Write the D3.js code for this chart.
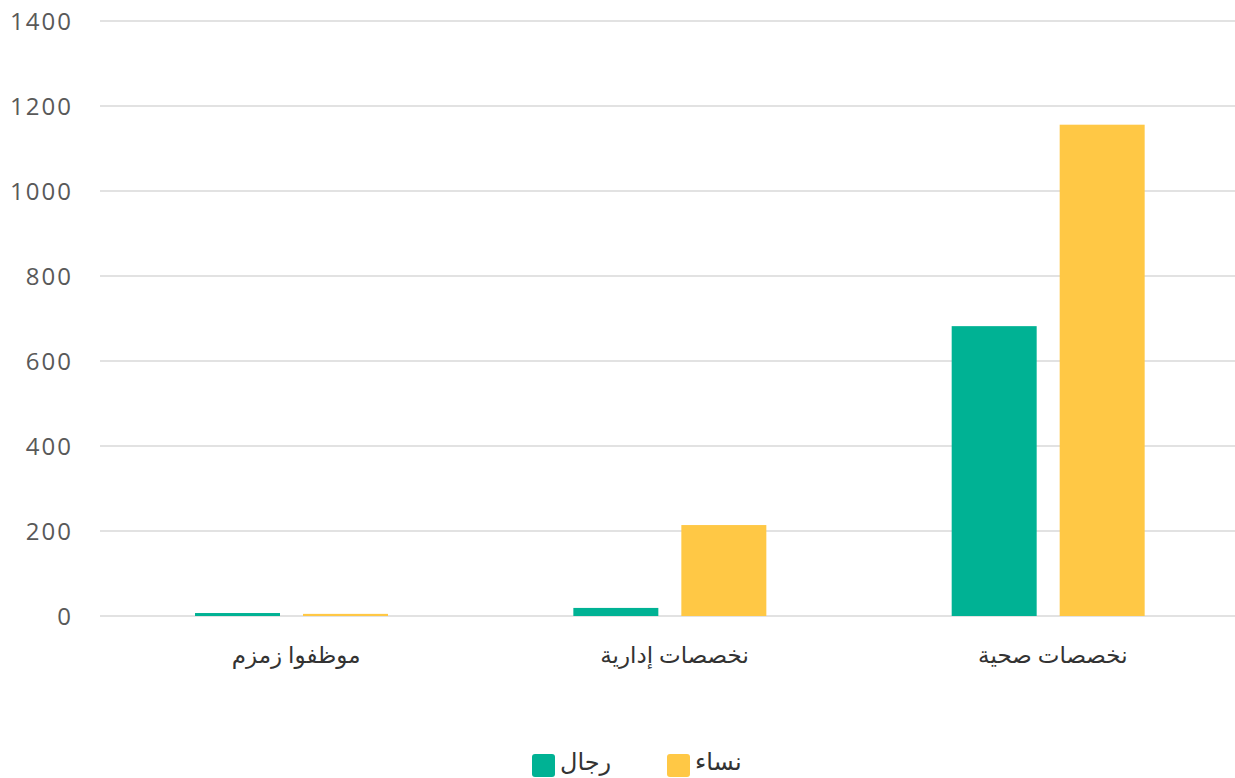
<!DOCTYPE html>
<html><head><meta charset="utf-8">
<script src="https://cdn.jsdelivr.net/npm/d3@7"></script>
<style>body{margin:0;background:#fff}svg{display:block}</style>
</head><body>
<svg id="c" width="1235" height="778"></svg>
<script>
const categories = ["موظفوا زمزم", "نخصصات إدارية", "نخصصات صحية"];
const seriesNames = ["رجال", "نساء"];
const men = [7, 19, 682];
const women = [5, 214, 1156];
const tickValues = [0, 200, 400, 600, 800, 1000, 1200, 1400];
const colors = ["#00b294", "#ffc845"];

(function(){
const svg = d3.select("#c");
const mLeft = 100, mRight = 1235, mTop = 21, mBottom = 616;
const y = d3.scaleLinear().domain([0, 1400]).range([mBottom, mTop]);
const x0 = d3.scaleBand().domain(categories).range([mLeft, mRight]);
const bw = x0.bandwidth();
const x1 = d3.scaleBand().domain(seriesNames).range([bw*0.2485 + 1, bw*0.7586 + 1]).paddingInner(0.213);

const font = "'Noto Sans','Open Sans','DejaVu Sans',sans-serif";

svg.append("g").selectAll("line").data(tickValues).join("line")
  .attr("x1", mLeft).attr("x2", mRight)
  .attr("y1", d => y(d)).attr("y2", d => y(d))
  .attr("stroke", "#d9d9d9").attr("stroke-width", 1.5);

svg.append("g").selectAll("text").data(tickValues).join("text")
  .attr("x", 73).attr("y", d => y(d)).attr("dy", "0.36em")
  .attr("text-anchor", "end").attr("fill", "#595959")
  .style("font-family", "'Open Sans','Noto Sans',sans-serif").style("font-size", "24px")
  .style("letter-spacing", "2px")
  .text(d => d);

const data = categories.map((c, i) => ({cat: c, vals: [men[i], women[i]]}));
const g = svg.append("g");
data.forEach(d => {
  d.vals.forEach((v, j) => {
    g.append("rect")
      .attr("x", x0(d.cat) + x1(seriesNames[j]))
      .attr("width", x1.bandwidth())
      .attr("y", y(v)).attr("height", y(0) - y(v))
      .attr("fill", colors[j]);
  });
});

svg.append("g").selectAll("text").data(categories).join("text")
  .attr("x", d => x0(d) + bw/2 + 7).attr("y", 655).attr("dy", "0.35em")
  .attr("text-anchor", "middle").attr("fill", "#333333")
  .style("font-family", font).style("font-size", "23px")
  .text(d => d);

const legendX = [532, 667];
seriesNames.forEach((s, j) => {
  svg.append("rect").attr("x", legendX[j]).attr("y", 754).attr("width", 23).attr("height", 23)
    .attr("rx", 3).attr("fill", colors[j]);
  svg.append("text").attr("x", legendX[j] + 28).attr("y", 762).attr("dy", "0.35em")
    .attr("text-anchor", "start").attr("fill", "#333333")
    .style("font-family", font).style("font-size", "24px")
    .text(s);
});
})();
</script>
</body></html>
